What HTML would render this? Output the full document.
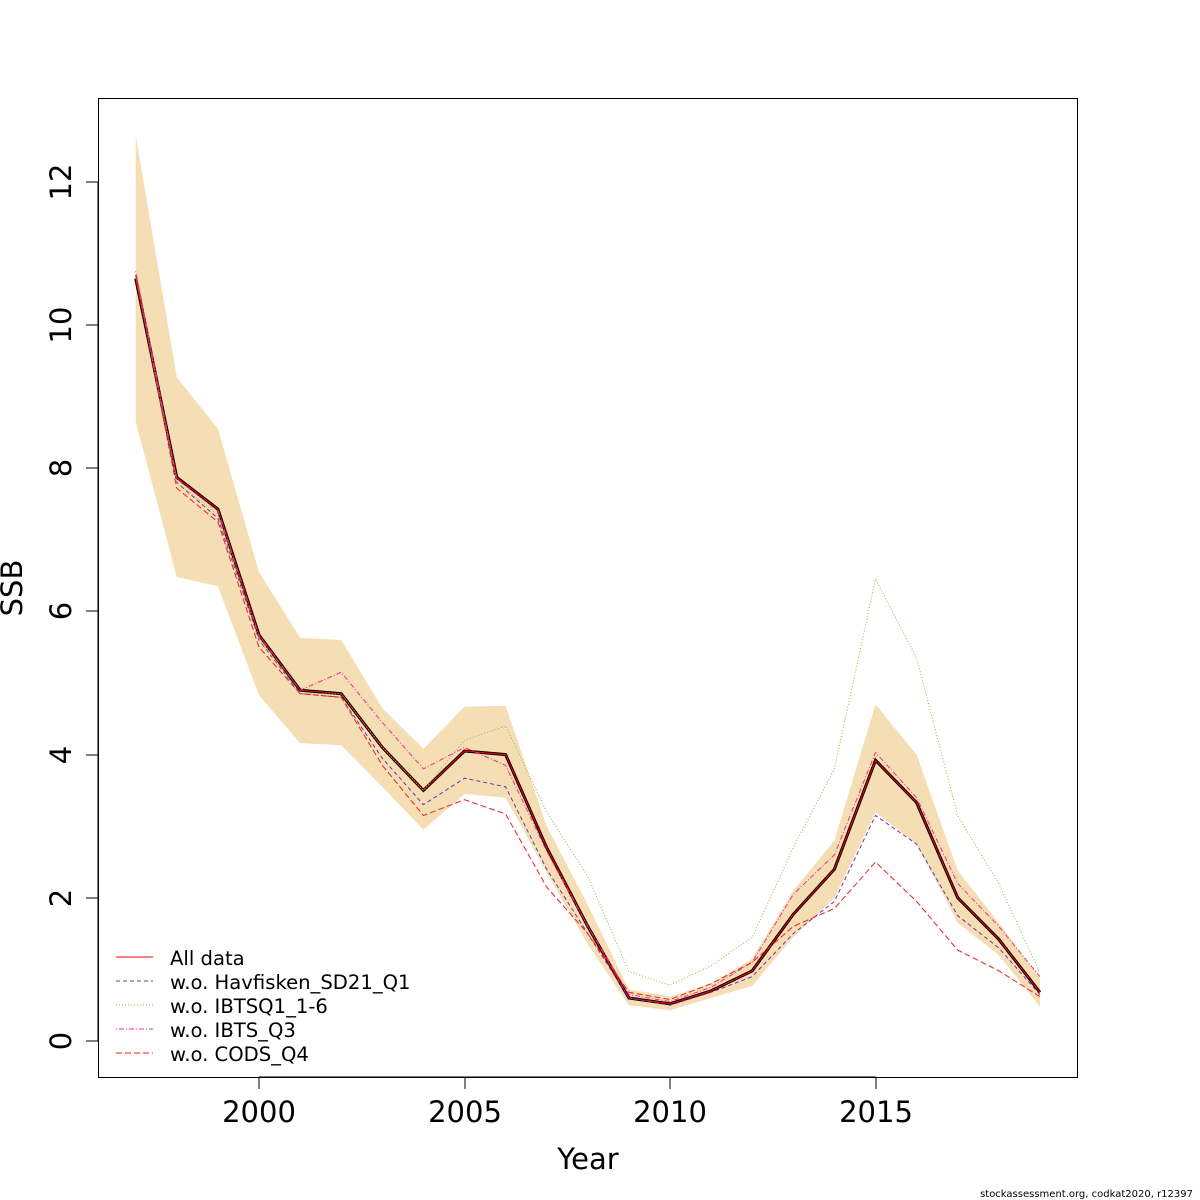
<!DOCTYPE html>
<html><head><meta charset="utf-8"><style>body{margin:0;background:#fff}svg{display:block}text{font-family:"DejaVu Sans","Liberation Sans",sans-serif}</style></head>
<body>
<svg id="s" width="1200" height="1200" xmlns="http://www.w3.org/2000/svg">
<rect width="1200" height="1200" fill="#fff"/>
<g id="data"></g>
<rect x="98.5" y="98.5" width="979" height="979" fill="none" stroke="#000" stroke-width="1"/>
<g stroke="#000" stroke-width="1">
<line x1="259" y1="1077" x2="876" y2="1077"/>
<line x1="259" y1="1077" x2="259" y2="1089"/><line x1="465" y1="1077" x2="465" y2="1089"/><line x1="670" y1="1077" x2="670" y2="1089"/><line x1="876" y1="1077" x2="876" y2="1089"/>
<line x1="98" y1="182" x2="98" y2="1041"/>
<line x1="86" y1="1041" x2="98" y2="1041"/><line x1="86" y1="898" x2="98" y2="898"/><line x1="86" y1="755" x2="98" y2="755"/><line x1="86" y1="611" x2="98" y2="611"/><line x1="86" y1="468" x2="98" y2="468"/><line x1="86" y1="325" x2="98" y2="325"/><line x1="86" y1="182" x2="98" y2="182"/>
</g>
<g font-size="29" text-anchor="middle">
<text x="259" y="1122">2000</text><text x="465" y="1122">2005</text><text x="670" y="1122">2010</text><text x="876" y="1122">2015</text>
<text transform="translate(71,1041) rotate(-90)">0</text>
<text transform="translate(71,898) rotate(-90)">2</text>
<text transform="translate(71,755) rotate(-90)">4</text>
<text transform="translate(71,611) rotate(-90)">6</text>
<text transform="translate(71,468) rotate(-90)">8</text>
<text transform="translate(71,325) rotate(-90)">10</text>
<text transform="translate(71,182) rotate(-90)">12</text>
<text x="588" y="1169">Year</text>
<text transform="translate(22,588) rotate(-90)">SSB</text>
</g>
<g font-size="19.6">
<text x="170" y="965">All data</text>
<text x="170" y="989">w.o. Havfisken_SD21_Q1</text>
<text x="170" y="1013">w.o. IBTSQ1_1-6</text>
<text x="170" y="1037">w.o. IBTS_Q3</text>
<text x="170" y="1061">w.o. CODS_Q4</text>
</g>
<g stroke-width="1">
<line x1="116" y1="957" x2="153" y2="957" stroke="#f00"/>
<line x1="116" y1="981" x2="153" y2="981" stroke="#7030b0" stroke-dasharray="4,3"/>
<line x1="116" y1="1005" x2="153" y2="1005" stroke="#80c040" stroke-dasharray="1,2"/>
<line x1="116" y1="1029" x2="153" y2="1029" stroke="#f03090" stroke-dasharray="1,2,5,2"/>
<line x1="116" y1="1053" x2="153" y2="1053" stroke="#f02020" stroke-dasharray="6,3"/>
</g>
<text x="1193" y="1197" font-size="10" text-anchor="end">stockassessment.org, codkat2020, r12397</text>
</svg>
<script>
var X=y=>135.7+(y-1997)*41.1, Y=v=>1041-v*71.6;
function pts(a){return a.map((v,i)=>X(1997+i).toFixed(1)+","+Y(v).toFixed(1)).join(" ");}
var up=[12.65,9.27,8.55,6.55,5.63,5.6,4.65,4.08,4.67,4.68,3.0,1.9,0.72,0.62,0.8,1.15,2.1,2.8,4.7,4.0,2.38,1.65,0.88];
var lo=[8.65,6.48,6.35,4.83,4.16,4.13,3.55,2.95,3.45,3.4,2.35,1.35,0.5,0.43,0.6,0.77,1.45,2.0,3.2,2.75,1.65,1.2,0.48];
var all=[10.65,7.87,7.43,5.67,4.9,4.85,4.1,3.5,4.05,4.0,2.7,1.6,0.6,0.52,0.7,0.98,1.77,2.4,3.92,3.33,2.0,1.42,0.68];
var cods=[10.7,7.72,7.25,5.5,4.85,4.8,3.85,3.15,3.37,3.17,2.15,1.5,0.68,0.58,0.8,1.1,1.6,1.85,2.5,1.95,1.27,0.98,0.62];
var ib1=[10.7,7.8,7.35,5.6,4.85,4.85,4.1,3.5,4.2,4.4,3.2,2.3,0.97,0.78,1.05,1.45,2.7,3.8,6.45,5.35,3.15,2.2,0.95];
var hav=[10.7,7.8,7.3,5.6,4.85,4.8,3.95,3.3,3.67,3.55,2.4,1.5,0.6,0.5,0.68,0.9,1.5,1.95,3.15,2.75,1.75,1.3,0.65];
var q3=[10.75,7.85,7.4,5.65,4.9,5.15,4.45,3.8,4.1,3.85,2.65,1.6,0.65,0.55,0.75,1.1,2.05,2.6,4.03,3.4,2.2,1.6,0.9];
var h='<polygon fill="#f5deb3" points="'+pts(up)+' '+lo.map((v,i)=>X(1997+i).toFixed(1)+","+Y(v).toFixed(1)).reverse().join(" ")+'"/>';
h+='<polyline fill="none" stroke="#000" stroke-width="3" points="'+pts(all)+'"/>';
h+='<polyline fill="none" stroke="#f00" stroke-width="1" points="'+pts(all)+'"/>';
h+='<polyline fill="none" stroke="#7030b0" stroke-width="1" stroke-dasharray="4,3" points="'+pts(hav)+'"/>';
h+='<polyline fill="none" stroke="#80c040" stroke-width="1" stroke-dasharray="1,2" points="'+pts(ib1)+'"/>';
h+='<polyline fill="none" stroke="#f03090" stroke-width="1" stroke-dasharray="1,2,5,2" points="'+pts(q3)+'"/>';
h+='<polyline fill="none" stroke="#f02020" stroke-width="1" stroke-dasharray="6,3" points="'+pts(cods)+'"/>';
document.getElementById("data").innerHTML=h;
</script>
</body></html>
